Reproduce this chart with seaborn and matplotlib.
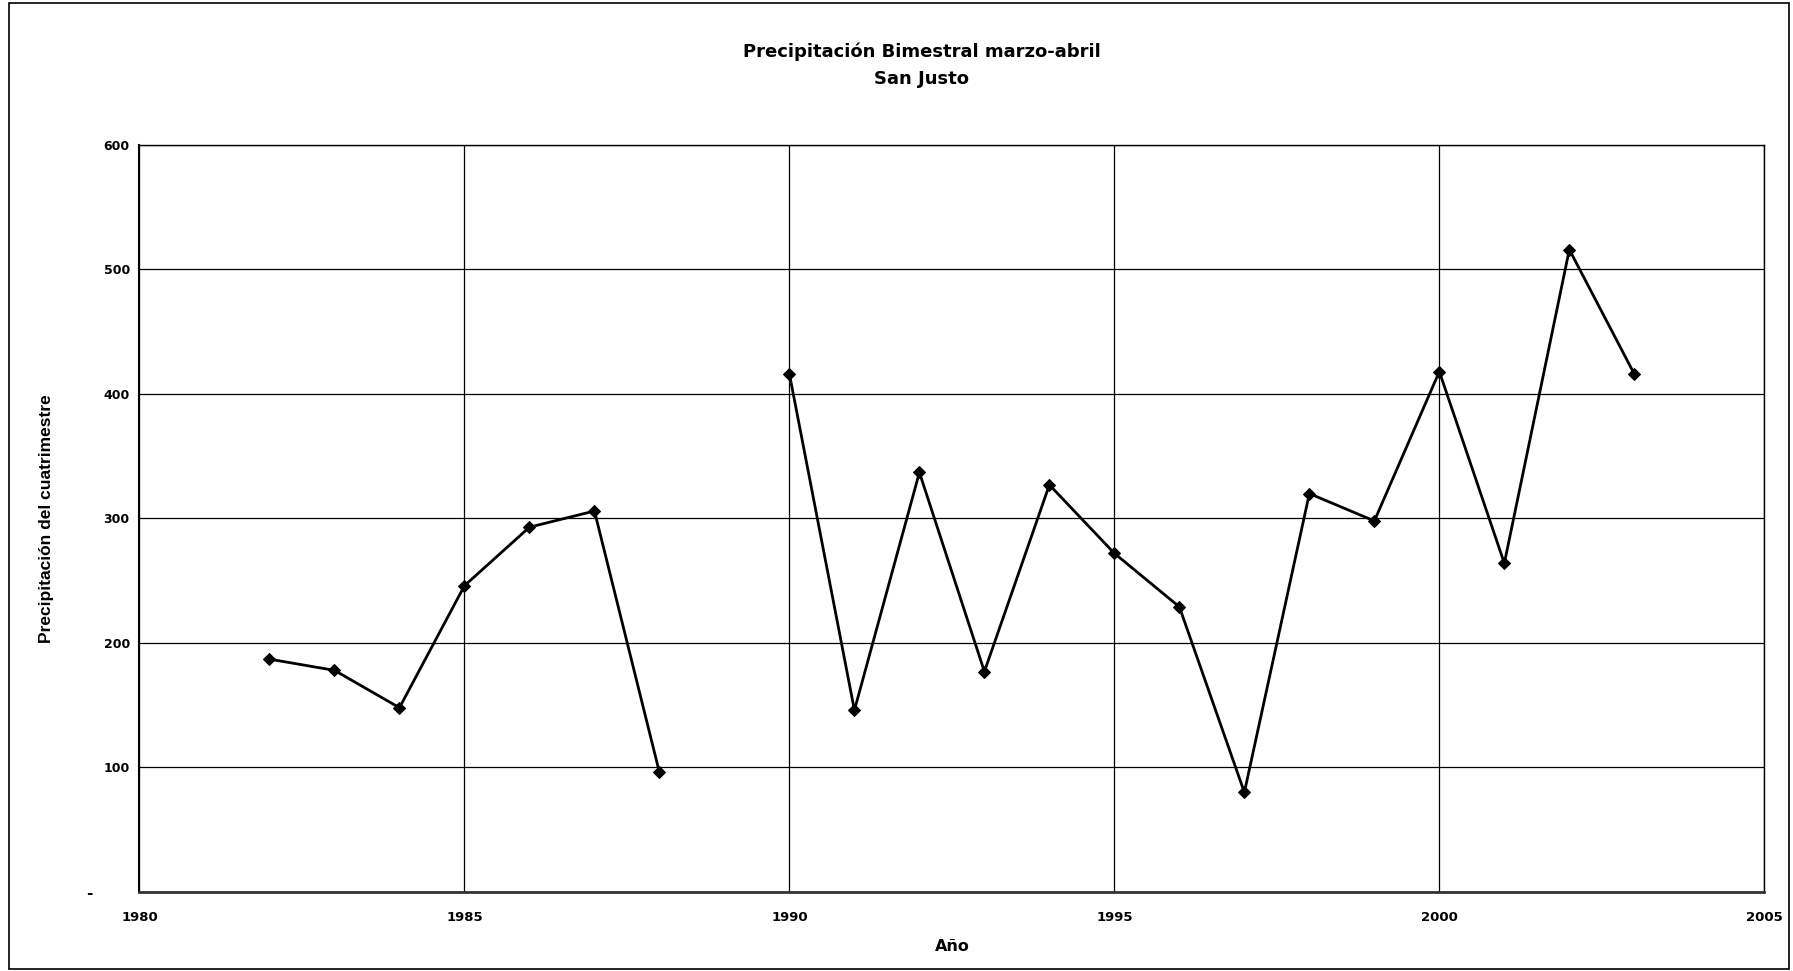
import numpy as np
import pandas as pd
import matplotlib
matplotlib.use("Agg")
import matplotlib.pyplot as plt
import matplotlib.transforms as mtransforms
import seaborn as sns
from matplotlib.patches import Rectangle

years = [1982, 1983, 1984, 1985, 1986, 1987, 1988,
         1990, 1991, 1992, 1993, 1994, 1995, 1996, 1997, 1998, 1999, 2000, 2001, 2002, 2003]
precip = [187, 178, 148, 246, 293, 306, 96,
          416, 146, 337, 177, 327, 272, 229, 80, 320, 298, 418, 264, 516, 416]
segment = [0] * 7 + [1] * 14

y_ticks = [0, 100, 200, 300, 400, 500, 600]
y_tick_labels = ["-", "100", "200", "300", "400", "500", "600"]
x_ticks = [1980, 1985, 1990, 1995, 2000, 2005]

title = "Precipitación Bimestral marzo-abril\nSan Justo"
xlabel = "Año"
ylabel = "Precipitación del cuatrimestre"

df = pd.DataFrame({"year": years, "precip": precip, "segment": segment})

sns.set_style("white")
plt.rcParams["font.family"] = ["DejaVu Sans"]
plt.rcParams["text.color"] = "black"
plt.rcParams["axes.labelcolor"] = "black"
plt.rcParams["xtick.color"] = "black"
plt.rcParams["ytick.color"] = "black"

fig = plt.figure(figsize=(17.93, 9.71), dpi=100)
ax = fig.add_axes([0.0778, 0.0814, 0.9062, 0.7693])

sns.lineplot(data=df, x="year", y="precip", units="segment", estimator=None,
             color="black", linewidth=2, marker="D", markersize=6.5,
             markeredgecolor="black", ax=ax)

ax.set_xlim(1980, 2005)
ax.set_ylim(0, 600)
ax.set_xticks(x_ticks)
ax.set_xticklabels([str(t) for t in x_ticks], fontsize=9.5, fontweight="bold")
ax.set_yticks(y_ticks)
ax.set_yticklabels(y_tick_labels, fontsize=9, fontweight="bold")
ax.grid(True, color="black", linewidth=0.9)
ax.set_axisbelow(True)
for s in ax.spines.values():
    s.set_color("black")
    s.set_linewidth(1.0)
ax.spines["left"].set_linewidth(1.5)
ax.spines["bottom"].set_linewidth(2.0)
ax.spines["bottom"].set_color("#333333")
ax.tick_params(axis="both", direction="out", length=5, width=1, color="black",
               labelcolor="black")
ax.tick_params(axis="x", pad=9)
ax.tick_params(axis="y", pad=2)

# dash for zero sits further left (accounting format)
zero_lab = ax.get_yticklabels()[0]
zero_lab.set_fontsize(11)
zero_lab.set_transform(zero_lab.get_transform() +
                       mtransforms.ScaledTranslation(-0.37, 0, fig.dpi_scale_trans))

ax.set_xlabel(xlabel, fontsize=11.5, fontweight="bold")
ax.xaxis.set_label_coords(0.5, -0.0736)
ax.xaxis.label.set_va("center")
ax.set_ylabel(ylabel, fontsize=12.5, fontweight="bold", family="Liberation Sans")
ax.yaxis.set_label_coords(-0.0575, 0.5)
ax.yaxis.label.set_va("center")

fig.text(0.514, 0.933, title, ha="center", va="center", fontsize=13,
         fontweight="bold", linespacing=1.6)

fig.patches.append(Rectangle((0.005, 0.002), 0.993, 0.995, transform=fig.transFigure,
                             fill=False, edgecolor="black", linewidth=1.2))

fig.savefig("out.png", dpi=100)
